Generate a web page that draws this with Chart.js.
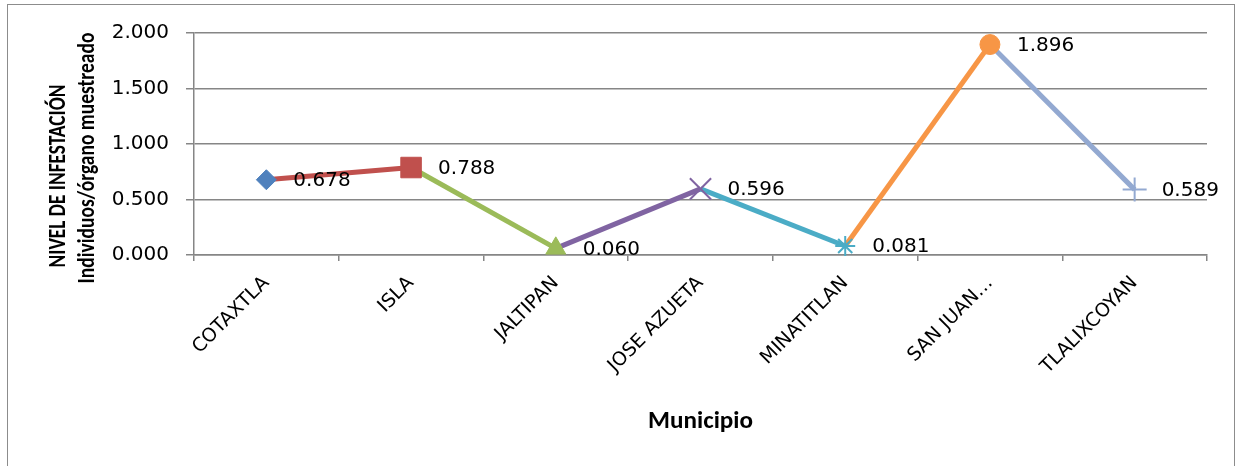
<!DOCTYPE html>
<html>
<head>
<meta charset="utf-8">
<script src="https://cdn.jsdelivr.net/npm/chart.js@4/dist/chart.umd.min.js"></script>
<style>
  html, body { margin: 0; padding: 0; background: #ffffff; }
  #wrap { width: 1236px; height: 466px; position: relative; }
  canvas { display: block; }
</style>
</head>
<body>
<div id="wrap"><canvas id="c" width="1236" height="466"></canvas></div>
<script>
// ---- data ----
const categories = ['COTAXTLA', 'ISLA', 'JALTIPAN', 'JOSE AZUETA', 'MINATITLAN', 'SAN JUAN…', 'TLALIXCOYAN'];
const values = [0.678, 0.788, 0.060, 0.596, 0.081, 1.896, 0.589];
const yTicks = [0, 0.5, 1.0, 1.5, 2.0];
const yTitleLines = ['NIVEL DE INFESTACIÓN', 'Individuos/órgano muestreado'];
const xTitle = 'Municipio';

// ---- styles ----
const pointColors = ['#4F81BD', '#C0504D', '#9BBB59', '#8064A2', '#4BACC6', '#F79646', '#93A9D1'];
const pointStyles = ['rectRot', 'rect', 'triangle', 'crossRot', 'star', 'circle', 'cross'];
const pointRadii = [10, 14.5, 11.5, 15, 10, 10, 12];
const pointBorderW = [1, 1, 1, 2, 2, 1, 2];
const NUMFONT = '"DejaVu Sans", sans-serif';
const TITLEFONT = 'Carlito, Lato, "Open Sans", sans-serif';
const GRID = '#868686';

const dataLabelPlugin = {
  id: 'dataLabels',
  afterDatasetsDraw(chart) {
    const ctx = chart.ctx;
    const meta = chart.getDatasetMeta(0);
    ctx.save();
    ctx.font = '20px ' + NUMFONT;
    ctx.fillStyle = '#000000';
    ctx.textAlign = 'left';
    ctx.textBaseline = 'middle';
    meta.data.forEach((pt, i) => {
      ctx.fillText(values[i].toFixed(3), pt.x + 27, pt.y + 1);
    });
    ctx.restore();
  }
};

// draw bold text fitted to a given length and cap height
function drawFitted(ctx, text, len, capH) {
  ctx.font = 'bold 16px ' + TITLEFONT;
  const w = ctx.measureText(text).width;
  const size = 16 * len / w;
  ctx.font = 'bold ' + size.toFixed(2) + 'px ' + TITLEFONT;
  const asc = ctx.measureText('N').actualBoundingBoxAscent || size * 0.66;
  const k = capH / asc;
  ctx.scale(1, k);
  ctx.fillText(text, 0, 0);
}

const framePlugin = {
  id: 'frameAndTitles',
  afterDraw(chart) {
    const ctx = chart.ctx;
    ctx.save();
    ctx.strokeStyle = '#8C8C8C';
    ctx.lineWidth = 1;
    ctx.strokeRect(7.5, 4.5, 1227, 480);
    ctx.fillStyle = '#000000';
    ctx.textAlign = 'center';
    ctx.textBaseline = 'alphabetic';
    const specs = [
      { text: yTitleLines[0], bx: 65, cy: 176, len: 183 },
      { text: yTitleLines[1], bx: 94, cy: 158, len: 251 }
    ];
    specs.forEach(s => {
      ctx.save();
      ctx.translate(s.bx, s.cy);
      ctx.rotate(-Math.PI / 2);
      drawFitted(ctx, s.text, s.len, 16);
      ctx.restore();
    });
    ctx.save();
    ctx.translate((chart.chartArea.left + chart.chartArea.right) / 2, 428);
    drawFitted(ctx, xTitle, 105, 16.5);
    ctx.restore();
    ctx.restore();
  }
};

new Chart(document.getElementById('c'), {
  type: 'line',
  data: {
    labels: categories,
    datasets: [{
      data: values,
      borderWidth: 5,
      tension: 0,
      fill: false,
      segment: {
        borderColor: c => pointColors[c.p1DataIndex]
      },
      borderColor: pointColors[1],
      pointStyle: pointStyles,
      pointRadius: pointRadii,
      pointHoverRadius: pointRadii,
      pointBackgroundColor: pointColors,
      pointBorderColor: pointColors,
      pointBorderWidth: pointBorderW,
      clip: false
    }]
  },
  options: {
    responsive: false,
    devicePixelRatio: 1,
    animation: false,
    events: [],
    layout: { padding: { left: 0, right: 29, top: 33, bottom: 0 } },
    plugins: {
      legend: { display: false },
      tooltip: { enabled: false },
      title: { display: false }
    },
    scales: {
      x: {
        type: 'category',
        offset: true,
        grid: {
          offset: true,
          drawOnChartArea: false,
          drawTicks: true,
          tickLength: 6,
          color: GRID,
          lineWidth: 1.5
        },
        border: { display: true, color: GRID, width: 1.5 },
        ticks: {
          autoSkip: false,
          maxRotation: 45,
          minRotation: 45,
          padding: 11,
          color: '#000000',
          font: { family: NUMFONT, size: 19 }
        },
        afterFit: s => { s.height = 466 - 255; }
      },
      y: {
        min: 0,
        max: 2,
        afterBuildTicks: s => { s.ticks = yTicks.map(v => ({ value: v })); },
        grid: {
          color: GRID,
          lineWidth: 1.5,
          tickLength: 8,
          drawTicks: true
        },
        border: { display: true, color: GRID, width: 1.5 },
        ticks: {
          padding: 17,
          color: '#000000',
          font: { family: NUMFONT, size: 20 },
          callback: v => Number(v).toFixed(3)
        },
        afterFit: s => { s.width = 194; }
      }
    }
  },
  plugins: [dataLabelPlugin, framePlugin]
});
</script>
</body>
</html>
